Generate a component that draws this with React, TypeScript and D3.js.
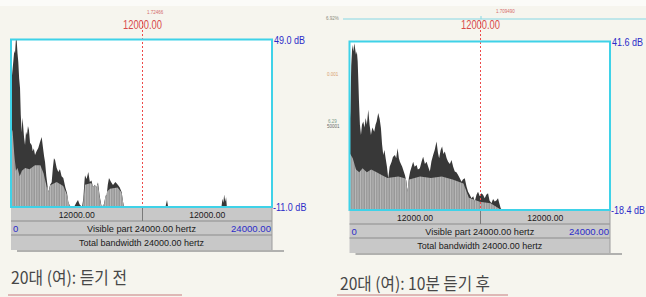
import React from 'react'
import * as d3 from 'd3'

// spectrum, 20s female, before listening (upper envelope)
const beforeHz = [0, 90, 210, 300, 370, 450, 520, 600, 670, 750, 830, 900, 980, 1050, 1100, 1200, 1290, 1380, 1470, 1560, 1650, 1750, 1900, 2000, 2100, 2210, 2350, 2510, 2650, 2820, 2950, 3050, 3130, 3250, 3430, 3600, 3740, 3850, 3950, 4050, 4200, 4350, 4500, 4650, 4810, 5000, 5150, 5270, 5400, 5580, 5800, 6000, 6160, 6300, 6530, 6650, 6750, 6805, 6950, 7108, 7250, 7400, 7540, 7700, 7850, 8000, 8150, 8340, 8550, 8700, 8800, 8900, 9011, 9200, 9379, 9600, 9839, 10000, 10179, 10300, 10391, 14200, 14345, 14450, 19350, 19450, 19530, 19600, 19700, 19780, 19850, 24000]
const beforeDb = [24.8, 36, 41, 45, 44, 49, 48.8, 44, 41, 35, 31.6, 22, 15.8, 21, 19, 14, 11.2, 16, 14.8, 18, 16.6, 12, 11.2, 9, 10, 7.6, 9, 10.1, 12, 14.1, 10, 7, 5.1, 0, -5.7, -3, -2.1, 3, 6.5, 5.8, 3, 1.5, 2.5, 0, -0.6, -4, -6, -9.2, -10.5, -11, -11, -9.5, -8.5, -10, -11, -8, -2, 0.4, -1, 1.5, -2, -1.5, -3.9, -3, -4, -2.1, -7, -11, -10, -7, -6.7, -3, -0.6, -2, -3.1, -2, -3.1, -4, -5.7, -9, -11, -11, -8.5, -11, -11, -8, -9.5, -6.5, -9, -7.5, -11, -11]
// lower (gray) part of the same spectrum
const beforeFloorHz = [0, 150, 300, 450, 600, 800, 1000, 1300, 1700, 2200, 2700, 3000, 3300, 3700, 4200, 4800, 5200, 5450, 6600, 6800, 7300, 8000, 8300, 8700, 9100, 9800, 10200, 10390, 24000]
const beforeFloorDb = [18, 16, 8, 2, 3, 0, 2, 3, 2.5, 4, 4, 1, -4, -3, -2, -3.5, -7, -11, -11, -3, -2.5, -3, -11, -6, -4.5, -4, -6, -11, -11]

// spectrum, 20s female, after 10 min listening
const afterHz = [0, 74, 160, 257, 350, 441, 520, 598, 680, 754, 820, 874, 960, 1057, 1150, 1269, 1380, 1490, 1600, 1729, 1850, 1977, 2100, 2280, 2400, 2501, 2648, 2780, 2897, 3000, 3108, 3220, 3329, 3450, 3568, 3700, 3880, 4000, 4184, 4300, 4432, 4550, 4643, 4855, 5103, 5230, 5351, 5470, 5590, 5866, 6000, 6179, 6300, 6482, 6650, 6786, 6950, 7099, 7250, 7402, 7550, 7705, 7850, 8018, 8150, 8257, 8400, 8533, 8650, 8781, 8950, 9085, 9250, 9397, 9550, 9701, 9850, 10004, 10150, 10317, 10450, 10620, 10780, 10924, 11080, 11236, 11400, 11540, 11700, 11843, 12000, 12156, 12300, 12459, 12600, 12763, 12900, 13075, 13230, 13378, 13530, 13682, 13800, 13930, 14050, 24000]
const afterDb = [10, 16.6, 33, 40.4, 38, 41, 39, 36.9, 38, 34.5, 27, 20.2, 12, 8.3, 12, 13.1, 11, 14.4, 12, 17.3, 12, 8.3, 11, 9.5, 12, 13.1, 16.1, 14, 10.7, 5, 1.2, 3, 0, -3, -7.1, -3, -1.2, 0.5, 1.2, 0, 3.6, 0, -1.2, -3, -5.9, -8, -11.9, -7, -4.7, -1.2, -3, -2.4, -4, -3.5, -1, 0.6, -2, -1.2, -3, -4.7, -1, 1.2, 3, 6, 2, 0, 3, 4.2, 1.5, 2.4, 0, -1.2, -2, -0.6, -3, -4.7, -5, -5.9, -7, -8.3, -7.5, -7.1, -10, -11.9, -13, -14.2, -13.5, -15.4, -13, -11.9, -13.5, -12.4, -13, -14.2, -13, -12.4, -15, -16, -14.5, -15.4, -15, -14.2, -16, -17.8, -18.4, -18.4]
const afterFloorHz = [0, 300, 600, 900, 1200, 1600, 2000, 2500, 3000, 3500, 4500, 5500, 6500, 7500, 8500, 9500, 10500, 11000, 12000, 13000, 14000, 24000]
const afterFloorDb = [2, 0, -4, -5, -3.5, -5, -4, -5, -6, -7, -6.5, -7.5, -6.5, -7, -6.5, -7.5, -9, -14, -15.5, -16, -18.4, -18.4]

const dbTop = [49.0, 41.6]
const dbBottom = [-11.0, -18.4]
const cursorHz = 12000
const bandwidthHz = 24000
const captions = ['20대 (여): 듣기 전', '20대 (여): 10분 듣기 후']

const praatFont = '"Liberation Sans", Arial, sans-serif'

type Box = { x0: number; x1: number; y0: number; y1: number; rowH: number[] }

function Spectrum(props: {
  id: string
  hz: number[]
  db: number[]
  floorHz: number[]
  floorDb: number[]
  top: number
  bottom: number
  box: Box
}) {
  const { id, hz, db, floorHz, floorDb, top, bottom, box } = props
  const x = d3.scaleLinear().domain([0, bandwidthHz]).range([box.x0, box.x1])
  const y = d3.scaleLinear().domain([bottom, top]).range([box.y1, box.y0])

  const area = d3
    .area<number>()
    .x(i => x(hz[i]))
    .y0(box.y1)
    .y1(i => y(db[i]))
  const floorArea = d3
    .area<number>()
    .x(i => x(floorHz[i]))
    .y0(box.y1)
    .y1(i => y(floorDb[i]))

  const upperPath = area(d3.range(hz.length)) || ''
  const floorPath = floorArea(d3.range(floorHz.length)) || ''
  const cx = Math.round(x(cursorHz)) + 0.5
  const w = box.x1 - box.x0
  const r1 = box.y1 + box.rowH[0]
  const r2 = r1 + box.rowH[1]
  const r3 = r2 + box.rowH[2]
  const fs = 9.5

  return (
    <g>
      <defs>
        <clipPath id={`clip-${id}`}>
          <path d={upperPath} />
        </clipPath>
        <pattern id={`stripe-${id}`} width={2.5} height={4} patternUnits="userSpaceOnUse">
          <rect width={2.5} height={4} fill="#979797" />
          <rect width={1} height={4} fill="#bababa" />
        </pattern>
      </defs>
      {/* plot area */}
      <rect x={box.x0} y={box.y0} width={w} height={box.y1 - box.y0} fill="#ffffff" />
      <path d={upperPath} fill="#383838" />
      <path d={floorPath} fill={`url(#stripe-${id})`} clipPath={`url(#clip-${id})`} />

      {/* cursor */}
      <line x1={cx} x2={cx} y1={22} y2={box.y1} stroke="#ee4a4a" strokeWidth={1} strokeDasharray="2,2" />
      <text x={cx} y={29} textAnchor="middle" fontFamily={praatFont} fontSize={12} fill="#d84a4a" textLength={39} lengthAdjust="spacingAndGlyphs">
        {cursorHz.toFixed(2)}
      </text>

      <rect x={box.x0} y={box.y0} width={w} height={box.y1 - box.y0} fill="none" stroke="#3fd2e8" strokeWidth={2} />

      <text transform={`translate(${box.x1 + 2},${box.y0 + 4}) scale(0.82,1)`} fontFamily={praatFont} fontSize={11} fill="#2b2bc8">
        {`${top.toFixed(1)} dB`}
      </text>
      <text transform={`translate(${box.x1 + 1},${box.y1 + 4}) scale(0.82,1)`} fontFamily={praatFont} fontSize={11} fill="#2b2bc8">
        {`${bottom.toFixed(1)} dB`}
      </text>

      {/* shadow under the info rows */}
      <line x1={box.x0 + 6} x2={box.x1 + 12} y1={r3 + 1} y2={r3 + 1} stroke="#9a9a9a" strokeWidth={1.5} />
      {/* info rows */}
      <rect x={box.x0} y={box.y1} width={w} height={r3 - box.y1} fill="#c8c8c8" />
      <line x1={box.x0} x2={box.x1} y1={r1} y2={r1} stroke="#8c8c8c" />
      <line x1={box.x0} x2={box.x1} y1={r2} y2={r2} stroke="#8c8c8c" />
      <line x1={box.x1} x2={box.x1} y1={box.y1} y2={r3} stroke="#9c9c9c" />
      <line x1={cx} x2={cx} y1={box.y1} y2={r1} stroke="#7a7a7a" />
      <line x1={box.x0} x2={box.x1} y1={box.y1} y2={box.y1} stroke="#3fd2e8" strokeWidth={2} />

      <text x={(box.x0 + cx) / 2} y={r1 - 3.5} textAnchor="middle" fontFamily={praatFont} fontSize={fs} fill="#1a1a1a" textLength={36} lengthAdjust="spacingAndGlyphs">
        {cursorHz.toFixed(2)}
      </text>
      <text x={(cx + box.x1) / 2} y={r1 - 3.5} textAnchor="middle" fontFamily={praatFont} fontSize={fs} fill="#1a1a1a" textLength={36} lengthAdjust="spacingAndGlyphs">
        {(bandwidthHz - cursorHz).toFixed(2)}
      </text>
      <text x={box.x0 + 2} y={r2 - 3.5} fontFamily={praatFont} fontSize={fs} fill="#2b2bc8">
        0
      </text>
      <text x={(box.x0 + box.x1) / 2} y={r2 - 3.5} textAnchor="middle" fontFamily={praatFont} fontSize={fs} fill="#1a1a1a" textLength={109} lengthAdjust="spacingAndGlyphs">
        {`Visible part ${bandwidthHz.toFixed(2)} hertz`}
      </text>
      <text x={box.x1 - 1} y={r2 - 3.5} textAnchor="end" fontFamily={praatFont} fontSize={fs} fill="#2b2bc8" textLength={40} lengthAdjust="spacingAndGlyphs">
        {bandwidthHz.toFixed(2)}
      </text>
      <text x={(box.x0 + box.x1) / 2} y={r3 - 4} textAnchor="middle" fontFamily={praatFont} fontSize={fs} fill="#1a1a1a" textLength={125} lengthAdjust="spacingAndGlyphs">
        {`Total bandwidth ${bandwidthHz.toFixed(2)} hertz`}
      </text>
    </g>
  )
}

export default function App() {
  const W = 646
  const H = 297
  const left: Box = { x0: 11, x1: 272, y0: 39.5, y1: 207, rowH: [14, 14, 15] }
  const right: Box = { x0: 349.5, x1: 610, y0: 41.5, y1: 210, rowH: [14, 14, 15] }
  const tiny = { fontFamily: praatFont, fontSize: 4.5 }

  return (
    <svg width={W} height={H} style={{ position: 'absolute', left: 0, top: 0 }}>
      <rect width={W} height={H} fill="#f6f5ee" />
      <rect x={0} y={0} width={W} height={6} fill="#fbfbf8" />

      {/* tiny editor labels */}
      <text x={147} y={14} fill="#d46a6a" {...tiny}>1.72466</text>
      <line x1={343} x2={W} y1={19} y2={19} stroke="#86d8e4" strokeWidth={1.2} />
      <line x1={481} x2={481} y1={16} y2={19} stroke="#86d8e4" />
      <text x={326} y={20} fill="#8a8a7a" {...tiny}>6.92%</text>
      <text x={496} y={13} fill="#d46a6a" {...tiny}>1.709490</text>
      <text x={327} y={76} fill="#d8a070" {...tiny}>0.001</text>
      <text x={328} y={123} fill="#7a9a8a" {...tiny}>6.29</text>
      <text x={327} y={128} fill="#6a6a6a" {...tiny}>50001</text>

      <Spectrum id="before" hz={beforeHz} db={beforeDb} floorHz={beforeFloorHz} floorDb={beforeFloorDb} top={dbTop[0]} bottom={dbBottom[0]} box={left} />
      <Spectrum id="after" hz={afterHz} db={afterDb} floorHz={afterFloorHz} floorDb={afterFloorDb} top={dbTop[1]} bottom={dbBottom[1]} box={right} />

      {/* captions */}
      <text x={11} y={284} fontFamily='"Noto Sans CJK KR", sans-serif' fontSize={17} fill="#474747" textLength={116} lengthAdjust="spacingAndGlyphs">
        {captions[0]}
      </text>
      <line x1={8} x2={182} y1={295} y2={295} stroke="#d6a3a3" strokeWidth={1.5} />
      <text x={340} y={290} fontFamily='"Noto Sans CJK KR", sans-serif' fontSize={17} fill="#474747" textLength={150} lengthAdjust="spacingAndGlyphs">
        {captions[1]}
      </text>
      <line x1={337} x2={508} y1={295} y2={295} stroke="#d6a3a3" strokeWidth={1.5} />
    </svg>
  )
}
